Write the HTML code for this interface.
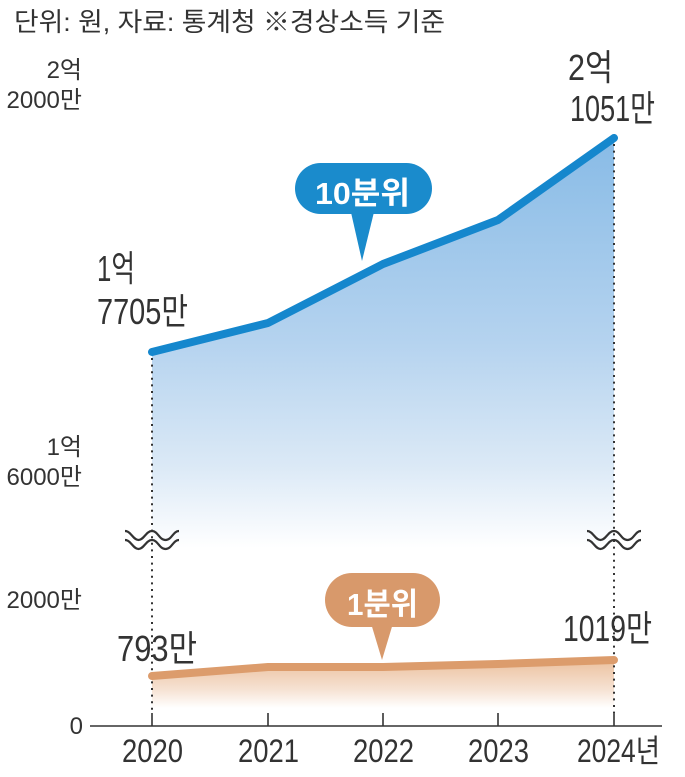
<!DOCTYPE html>
<html><head><meta charset="utf-8">
<style>
html,body{margin:0;padding:0;background:#fff;}
svg{display:block;}
text{font-family:"Liberation Sans Narrow","Liberation Sans","Noto Sans CJK KR",sans-serif;fill:#333;}
.t{font-family:"Liberation Sans","Noto Sans CJK KR",sans-serif;}
</style></head>
<body>
<svg width="685" height="777" viewBox="0 0 685 777" xmlns="http://www.w3.org/2000/svg">
<defs>
<linearGradient id="gb" gradientUnits="userSpaceOnUse" x1="0" y1="138" x2="0" y2="548">
<stop offset="0" stop-color="#88bbe6"/>
<stop offset="0.5" stop-color="#b5d3ef"/>
<stop offset="0.8" stop-color="#dbe9f6"/>
<stop offset="1" stop-color="#ffffff"/>
</linearGradient>
<linearGradient id="go" gradientUnits="userSpaceOnUse" x1="0" y1="662" x2="0" y2="708">
<stop offset="0" stop-color="#ecc3a2"/>
<stop offset="0.6" stop-color="#f6e2d3"/>
<stop offset="1" stop-color="#ffffff"/>
</linearGradient>
</defs>

<!-- title -->
<text class="t" x="14" y="31" font-size="26" textLength="431" lengthAdjust="spacingAndGlyphs">단위: 원, 자료: 통계청 ※경상소득 기준</text>

<!-- fills -->
<polygon points="152,352 268,323 383,264 498,220 614,138 614,560 152,560" fill="url(#gb)"/>
<polygon points="152,676 268,667 383,667 498,664 614,660 614,712 152,712" fill="url(#go)"/>

<!-- dotted verticals -->
<line x1="152" y1="358" x2="152" y2="713" stroke="#333" stroke-width="2" stroke-dasharray="2 4.6"/>
<line x1="614" y1="144" x2="614" y2="713" stroke="#333" stroke-width="2" stroke-dasharray="2 4.6"/>

<!-- lines -->
<polyline points="152,352 268,323 383,264 498,220 614,138" fill="none" stroke="#1587cd" stroke-width="8" stroke-linecap="round" stroke-linejoin="round"/>
<polyline points="152,676 268,667 383,667 498,664 614,660" fill="none" stroke="#dc9c6c" stroke-width="8" stroke-linecap="round" stroke-linejoin="round"/>

<!-- wave breaks -->
<g fill="none" stroke="#333" stroke-width="2.2">
<path d="M125,531 C131,531 133,540 138.5,540 S146,531 152,531 S159,540 165.5,540 S173,531 179,531"/>
<path d="M125,540 C131,540 133,549 138.5,549 S146,540 152,540 S159,549 165.5,549 S173,540 179,540"/>
<path d="M587,531 C593,531 595,540 600.5,540 S608,531 614,531 S621,540 627.5,540 S635,531 641,531"/>
<path d="M587,540 C593,540 595,549 600.5,549 S608,540 614,540 S621,549 627.5,549 S635,540 641,540"/>
</g>

<!-- axis -->
<line x1="90" y1="726" x2="662" y2="726" stroke="#333" stroke-width="1.6"/>
<g stroke="#333" stroke-width="1.6">
<line x1="152" y1="713" x2="152" y2="726"/>
<line x1="268" y1="713" x2="268" y2="726"/>
<line x1="383" y1="713" x2="383" y2="726"/>
<line x1="498" y1="713" x2="498" y2="726"/>
<line x1="614" y1="713" x2="614" y2="726"/>
</g>

<!-- year labels -->
<g font-size="32">
<text x="122" y="762" textLength="61" lengthAdjust="spacingAndGlyphs">2020</text>
<text x="238" y="762" textLength="61" lengthAdjust="spacingAndGlyphs">2021</text>
<text x="353" y="762" textLength="61" lengthAdjust="spacingAndGlyphs">2022</text>
<text x="468" y="762" textLength="61" lengthAdjust="spacingAndGlyphs">2023</text>
<text x="577" y="762" textLength="83" lengthAdjust="spacingAndGlyphs">2024년</text>
</g>

<!-- y labels -->
<g font-size="24" text-anchor="end">
<text x="82" y="78">2억</text>
<text x="82" y="108">2000만</text>
<text x="82" y="455">1억</text>
<text x="82" y="485">6000만</text>
<text x="82" y="608">2000만</text>
<text x="83" y="734">0</text>
</g>

<!-- value labels -->
<g font-size="36">
<text x="97" y="281" textLength="38" lengthAdjust="spacingAndGlyphs">1억</text>
<text x="97" y="324" textLength="91" lengthAdjust="spacingAndGlyphs">7705만</text>
<text x="568" y="80" textLength="45" lengthAdjust="spacingAndGlyphs">2억</text>
<text x="570" y="121" textLength="85" lengthAdjust="spacingAndGlyphs">1051만</text>
<text x="117" y="661" textLength="80" lengthAdjust="spacingAndGlyphs">793만</text>
<text x="563" y="641" textLength="89" lengthAdjust="spacingAndGlyphs">1019만</text>
</g>

<!-- callouts -->
<rect x="295" y="163" width="137" height="51" rx="25.5" fill="#1a8bcc"/>
<polygon points="350,208 375,208 362,261" fill="#1a8bcc"/>
<text x="315" y="204" font-size="31" font-weight="bold" style="fill:#fff" textLength="95" lengthAdjust="spacingAndGlyphs">10분위</text>

<rect x="325" y="573" width="115" height="54" rx="27" fill="#d8996b"/>
<polygon points="370,620 394,620 382,660" fill="#d8996b"/>
<text x="347" y="615" font-size="31" font-weight="bold" style="fill:#fff" textLength="71" lengthAdjust="spacingAndGlyphs">1분위</text>
</svg>
</body></html>
